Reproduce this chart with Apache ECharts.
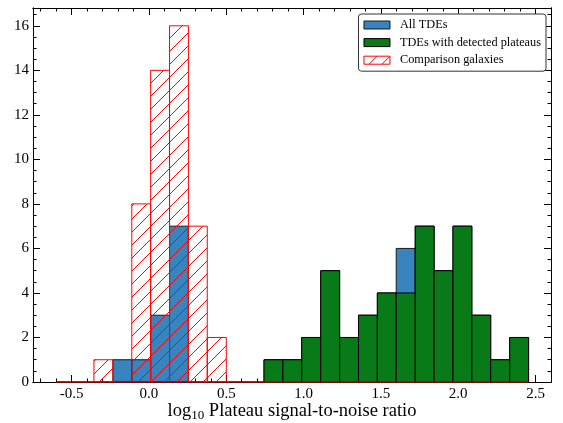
<!DOCTYPE html>
<html>
<head>
<meta charset="utf-8">
<script src="https://cdn.jsdelivr.net/npm/echarts@6/dist/echarts.min.js"></script>
<style>
  html, body { margin: 0; padding: 0; background: #fff; }
  #chart { width: 563px; height: 423px; }
</style>
</head>
<body>
<div id="chart"></div>
<script>
// histogram bin edges (log10 plateau S/N), 25 bins
const binEdges = [-0.6, -0.478, -0.356, -0.233, -0.111, 0.011, 0.133, 0.255, 0.377, 0.5,
  0.622, 0.744, 0.866, 0.988, 1.111, 1.233, 1.355, 1.477, 1.599, 1.722,
  1.844, 1.966, 2.088, 2.21, 2.333, 2.455];
const allTDEs     = [0, 0, 0, 1, 1, 3, 7, 0, 0, 0, 0, 1, 1, 2, 5, 2, 3, 4, 6, 7, 5, 7, 3, 1, 2];
const plateauTDEs = [0, 0, 0, 0, 0, 0, 0, 0, 0, 0, 0, 1, 1, 2, 5, 2, 3, 4, 4, 7, 5, 7, 3, 1, 2];
const comparison  = [0, 0, 1, 0, 8, 14, 16, 7, 2, 0, 0, 0, 0, 0, 0, 0, 0, 0, 0, 0, 0, 0, 0, 0, 0];

const xMajor = [-0.5, 0.0, 0.5, 1.0, 1.5, 2.0, 2.5];
const xMinor = [-0.7, -0.6, -0.4, -0.3, -0.2, -0.1, 0.1, 0.2, 0.3, 0.4, 0.6, 0.7, 0.8, 0.9,
  1.1, 1.2, 1.3, 1.4, 1.6, 1.7, 1.8, 1.9, 2.1, 2.2, 2.3, 2.4, 2.6];
const yMajor = [0, 2, 4, 6, 8, 10, 12, 14, 16];
const yMinor = [0.5, 1, 1.5, 2.5, 3, 3.5, 4.5, 5, 5.5, 6.5, 7, 7.5, 8.5, 9, 9.5, 10.5, 11, 11.5,
  12.5, 13, 13.5, 14.5, 15, 15.5, 16.5];

const FONT = '"Liberation Serif", "DejaVu Serif", serif';

// red diagonal hatch
const hatchCanvas = document.createElement('canvas');
hatchCanvas.width = 13;
hatchCanvas.height = 13;
const hctx = hatchCanvas.getContext('2d');
hctx.strokeStyle = '#ff0000';
hctx.lineWidth = 1;
hctx.beginPath();
hctx.moveTo(-1, 14);
hctx.lineTo(14, -1);
hctx.stroke();
const hatch = { image: hatchCanvas, repeat: 'repeat' };

function binData(counts) {
  return counts.map((c, i) => [binEdges[i], binEdges[i + 1], c]);
}

function barRenderer(fill, stroke) {
  return function (params, api) {
    const p0 = api.coord([api.value(0), api.value(2)]);
    const p1 = api.coord([api.value(1), 0]);
    if (api.value(2) === 0) {
      return { type: 'line', shape: { x1: p0[0], y1: p1[1], x2: p1[0], y2: p1[1] },
        style: { stroke: stroke, lineWidth: 1 } };
    }
    return {
      type: 'rect',
      shape: { x: p0[0], y: p0[1], width: p1[0] - p0[0], height: p1[1] - p0[1] },
      style: { fill: fill, stroke: stroke, lineWidth: 1 }
    };
  };
}

function xAxisDef(pos, values, len, labels) {
  return {
    type: 'value', position: pos, min: -0.75, max: 2.6,
    axisLine: { show: true, onZero: false, lineStyle: { color: '#000', width: 1 } },
    axisTick: { show: true, inside: true, length: len, customValues: values, lineStyle: { color: '#000' } },
    axisLabel: labels ? { show: true, customValues: values, formatter: v => v.toFixed(1),
      color: '#000', fontFamily: FONT, fontSize: 15, margin: 5 } : { show: false },
    splitLine: { show: false }
  };
}

function yAxisDef(pos, values, len, labels) {
  return {
    type: 'value', position: pos, min: 0, max: 16.8,
    axisLine: { show: true, onZero: false, lineStyle: { color: '#000', width: 1 } },
    axisTick: { show: true, inside: true, length: len, customValues: values, lineStyle: { color: '#000' } },
    axisLabel: labels ? { show: true, customValues: values, color: '#000',
      fontFamily: FONT, fontSize: 15, margin: 4 } : { show: false },
    splitLine: { show: false }
  };
}

const xBottom = xAxisDef('bottom', xMajor, 7, true);
xBottom.name = '{a|log}{s|10}{a| Plateau signal-to-noise ratio}';
xBottom.nameLocation = 'middle';
xBottom.nameGap = 18;
xBottom.nameMoveOverlap = false;
xBottom.nameTextStyle = {
  rich: {
    a: { fontFamily: FONT, fontSize: 18.5, color: '#000' },
    s: { fontFamily: FONT, fontSize: 13, color: '#000', verticalAlign: 'bottom', padding: [9, 0, 0, 0] }
  }
};

const chart = echarts.init(document.getElementById('chart'));
chart.setOption({
  animation: false,
  grid: { left: 33, right: 12, top: 8, bottom: 41, outerBoundsMode: 'none', containLabel: false },
  xAxis: [
    xBottom,
    xAxisDef('bottom', xMinor, 3.5, false),
    xAxisDef('top', xMajor, 7, false),
    xAxisDef('top', xMinor, 3.5, false)
  ],
  yAxis: [
    yAxisDef('left', yMajor, 7, true),
    yAxisDef('left', yMinor, 3.5, false),
    yAxisDef('right', yMajor, 7, false),
    yAxisDef('right', yMinor, 3.5, false)
  ],
  legend: {
    orient: 'vertical', right: 17, top: 14,
    backgroundColor: '#fff', borderColor: '#333', borderWidth: 1, borderRadius: 3,
    padding: [4, 5, 4, 5], itemGap: 3.6, itemWidth: 26, itemHeight: 8,
    textStyle: { fontFamily: FONT, fontSize: 12.3, lineHeight: 14, color: '#000', padding: [0, 0, 0, 5] },
    data: [
      { name: 'All TDEs', icon: 'rect', itemStyle: { color: '#3884bf', borderColor: '#1a1a1a', borderWidth: 1 } },
      { name: 'TDEs with detected plateaus', icon: 'rect', itemStyle: { color: '#087a18', borderColor: '#000', borderWidth: 1 } },
      { name: 'Comparison galaxies', icon: 'rect', itemStyle: { color: hatch, borderColor: '#ff0000', borderWidth: 1 } }
    ]
  },
  series: [
    { type: 'custom', name: 'All TDEs', renderItem: barRenderer('#3884bf', '#1a1a1a'),
      encode: { x: [0, 1], y: 2 }, data: binData(allTDEs), z: 2 },
    { type: 'custom', name: 'TDEs with detected plateaus', renderItem: barRenderer('#087a18', '#000'),
      encode: { x: [0, 1], y: 2 }, data: binData(plateauTDEs), z: 3 },
    { type: 'custom', name: 'Comparison galaxies', renderItem: barRenderer(hatch, '#ff0000'),
      encode: { x: [0, 1], y: 2 }, data: binData(comparison), z: 4 }
  ]
});
</script>
</body>
</html>
